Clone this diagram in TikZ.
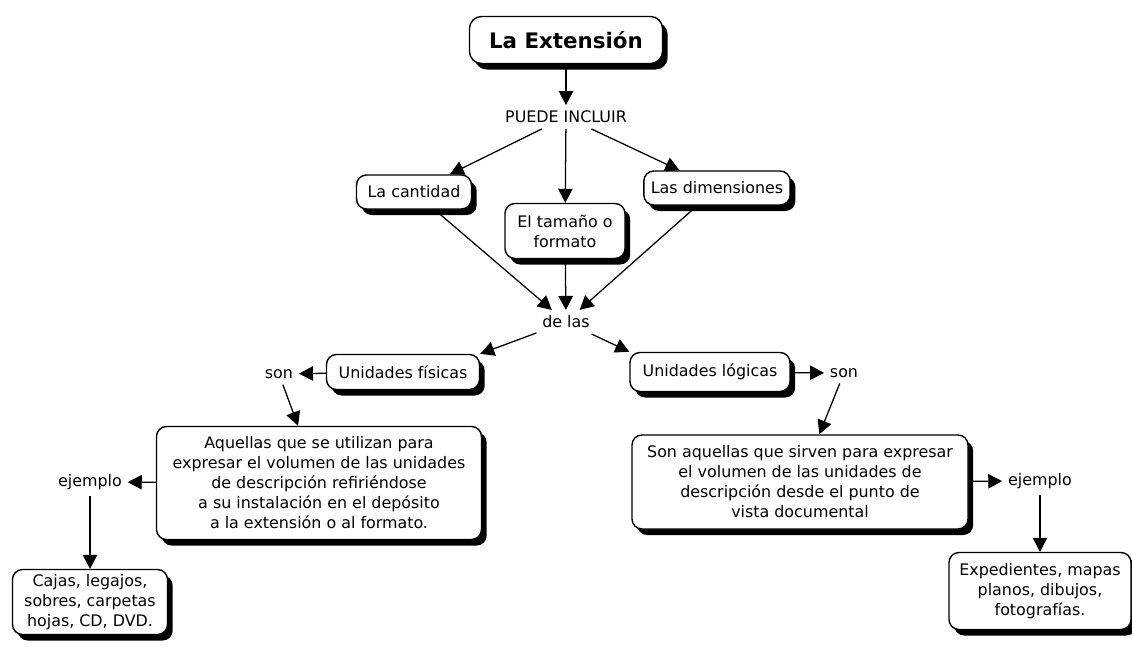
\documentclass[tikz,border=0pt]{standalone}
\usepackage{fontspec}
\setmainfont{DejaVu Sans}
\usetikzlibrary{
  arrows.meta,
  shadows
}
\tikzset{
  concept/.style={
    draw, fill=white, line width=1pt,
    rounded corners=0.25cm, align=center, inner sep=2pt,
    font=\fontsize{11.3}{14.2}\selectfont,
    drop shadow={shadow xshift=0.13cm, shadow yshift=-0.15cm, opacity=1, fill=black}
  },
  sz/.style 2 args={minimum width=#1*0.025cm, minimum height=#2*0.025cm},
  title/.style={font=\fontsize{15.2}{18}\selectfont\bfseries, rounded corners=0.3cm},
  linkword/.style={inner sep=4pt, font=\fontsize{11.3}{14.2}\selectfont},
  link/.style={-{Triangle[length=0.35cm, width=0.36cm]}, line width=0.9pt},
}

\begin{document}
\begin{tikzpicture}[x=0.025cm, y=-0.025cm]
\useasboundingbox (0,0) rectangle (1132,646);

% --- top: main concept and what it includes ---
\node[concept, title, sz={193}{47}] (ext) at (566,40) {La Extensión};
\node[linkword] (puede) at (566,117) {PUEDE INCLUIR};

\node[concept, sz={115}{34}] (cant) at (414,192) {La cantidad};
\node[concept, sz={120}{55}] (tam) at (565,231) {El tamaño o\\formato};
\node[concept, sz={138}{34}, inner xsep=5pt] (dim) at (717,188) {Las dimensiones};

\node[linkword] (delas) at (566,322) {de las};

% --- left branch: physical units ---
\node[concept, sz={153}{35}] (fis) at (403,372) {Unidades físicas};
\node[linkword] (sonf) at (279,374) {son};
\node[concept, sz={325}{113}] (aqu) at (319,483)
  {Aquellas que se utilizan para\\expresar el volumen de las unidades\\de descripción refiriéndose\\a su instalación en el depósito\\a la extensión o al formato.};
\node[linkword] (ejf) at (90,482) {ejemplo};
\node[concept, sz={155}{65}] (cajas) at (90,602) {Cajas, legajos,\\sobres, carpetas\\hojas, CD, DVD.};

% --- right branch: logical units ---
\node[concept, sz={160}{39}] (log) at (710,372) {Unidades lógicas};
\node[linkword] (sonl) at (844,373) {son};
\node[concept, sz={336}{94}] (sonaq) at (800,482)
  {Son aquellas que sirven para expresar\\el volumen de las unidades de\\descripción desde el punto de\\vista documental};
\node[linkword] (ejl) at (1040,481) {ejemplo};
\node[concept, sz={182}{77}] (exped) at (1040,591) {Expedientes, mapas\\planos, dibujos,\\fotografías.};

% connectors
\draw[link] (ext) -- (puede);
\draw[link] (puede) -- (cant);
\draw[link] (puede) -- (tam);
\draw[link] (puede) -- (dim);
\draw[link] (cant) -- (delas);
\draw[link] (tam) -- (delas);
\draw[link] (dim) -- (delas);
\draw[link] (delas) -- (fis.north east);
\draw[link] (delas) -- (log.north west);

\draw[link] (fis) -- (sonf);
\draw[link] (sonf) -- (aqu);
\draw[link] (aqu) -- (ejf);
\draw[link] (ejf) -- (cajas);

\draw[link] (log) -- (sonl);
\draw[link] (sonl) -- (sonaq);
\draw[link] (sonaq) -- (ejl);
\draw[link] (ejl) -- (exped);
\end{tikzpicture}
\end{document}
